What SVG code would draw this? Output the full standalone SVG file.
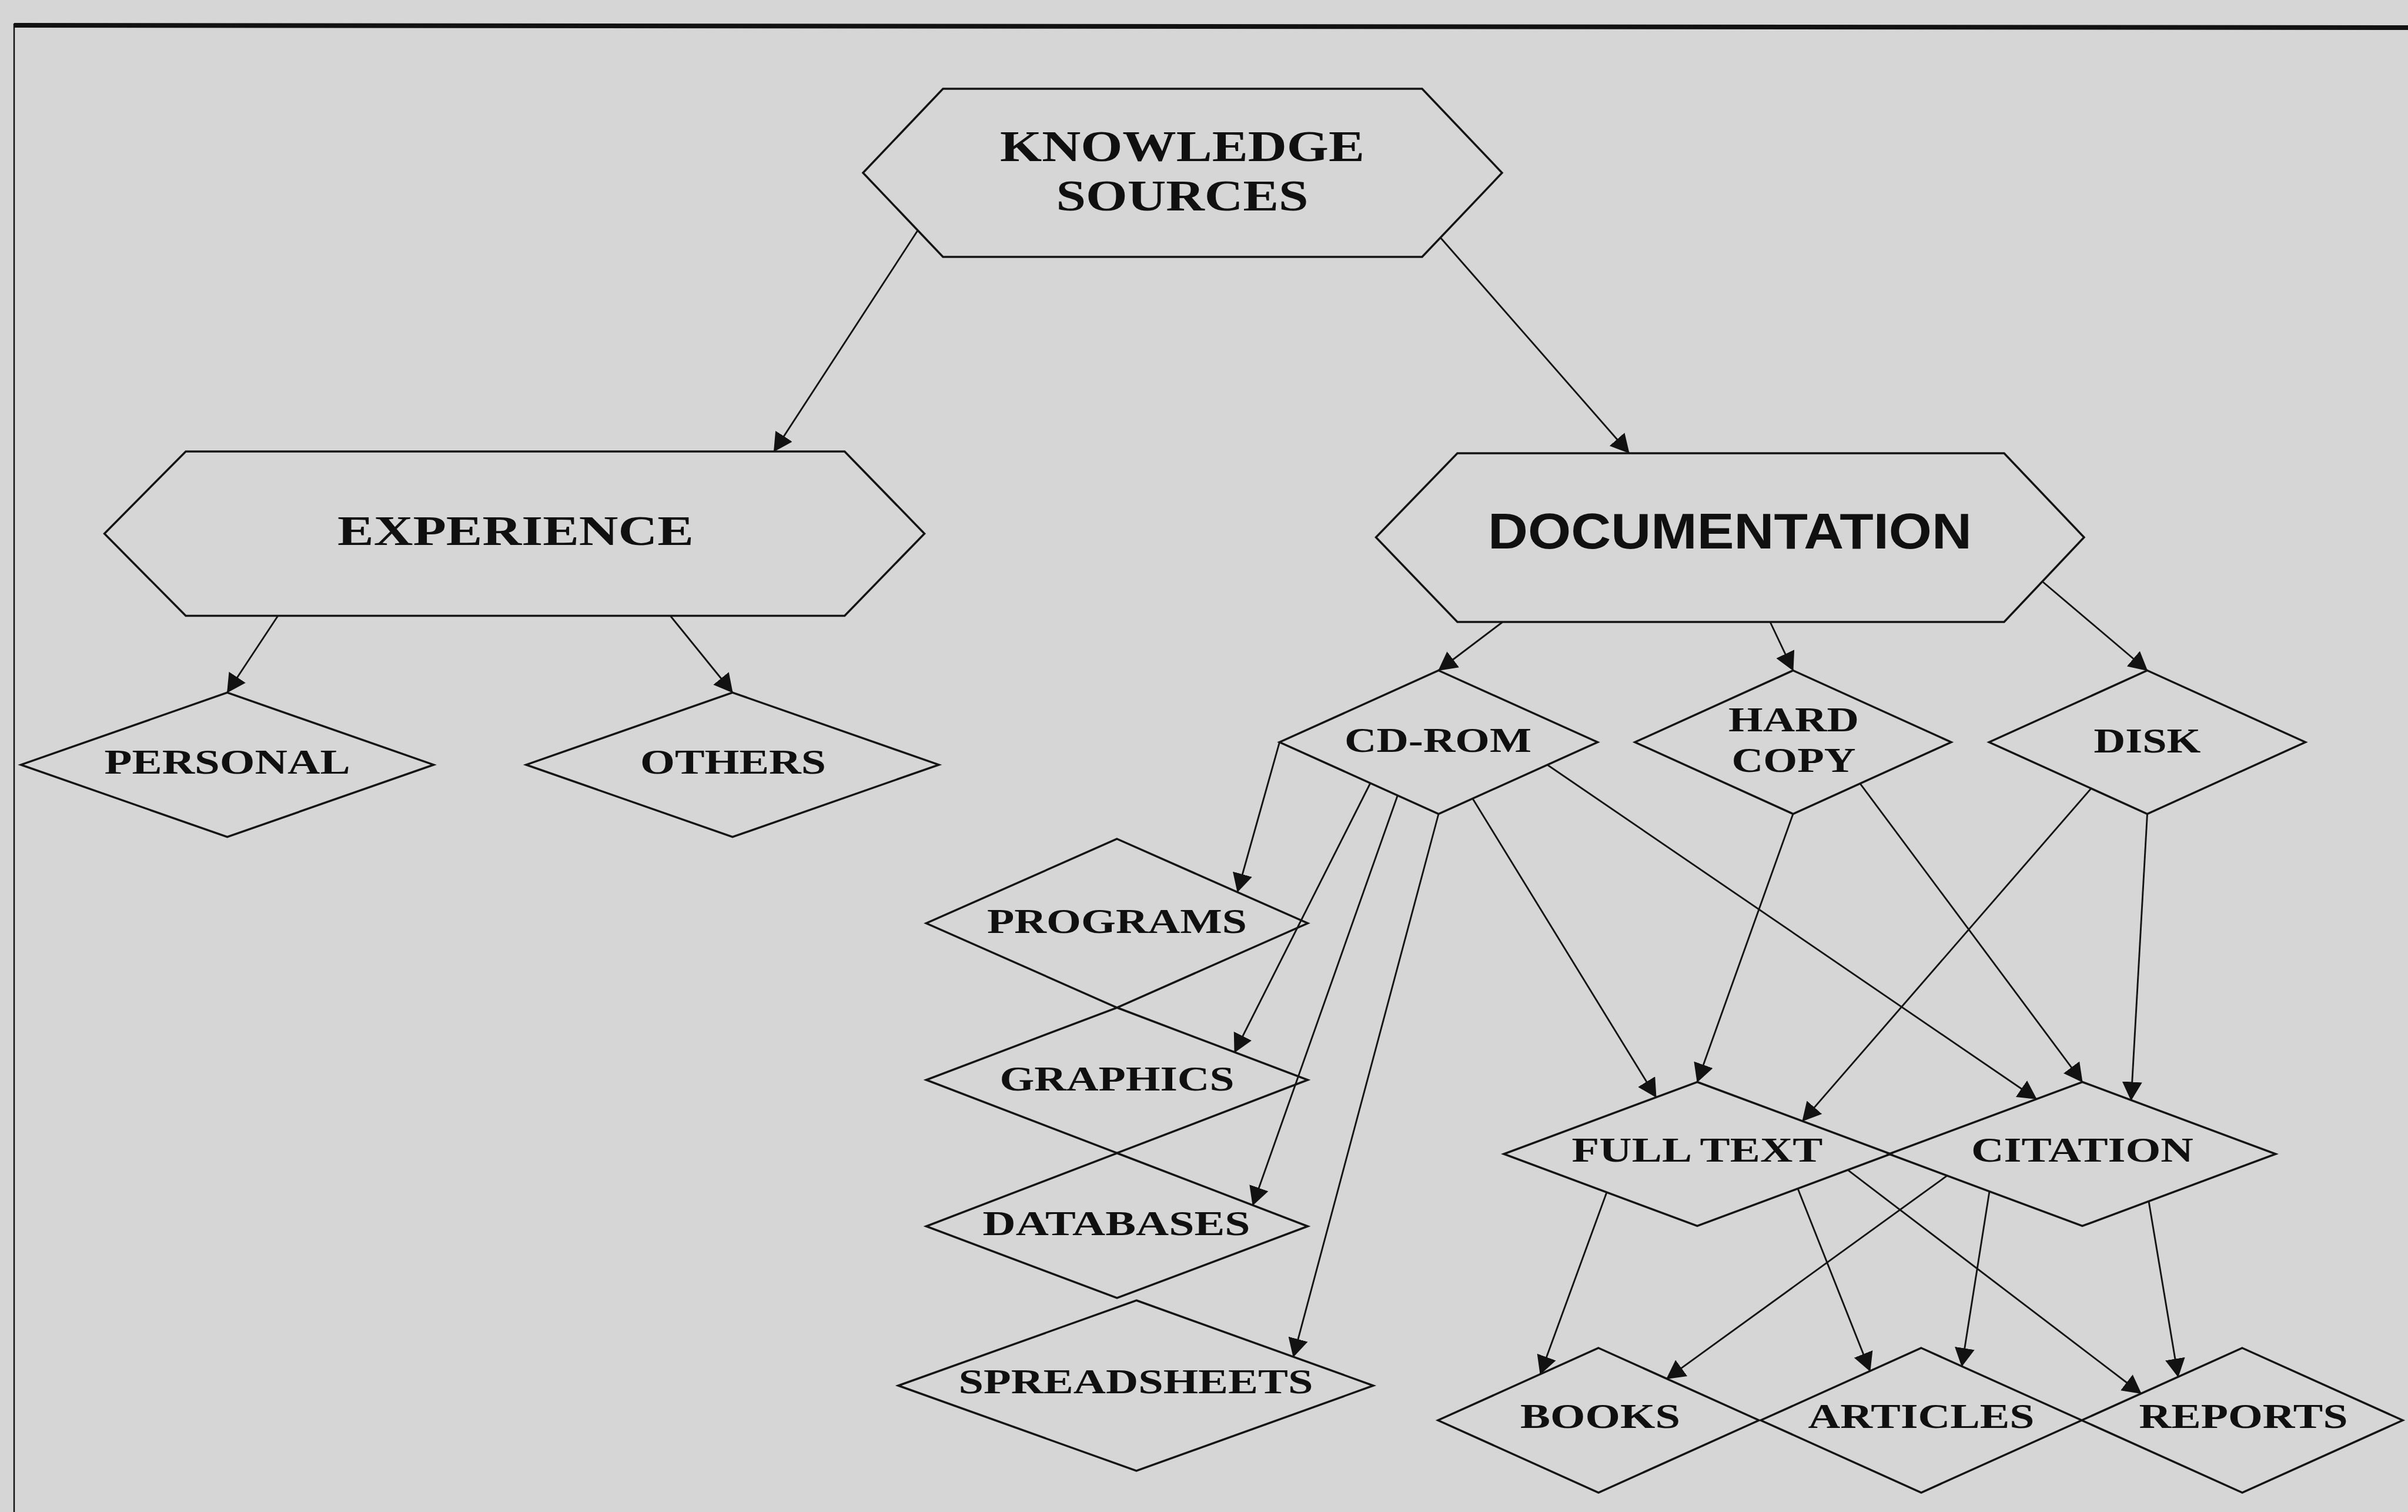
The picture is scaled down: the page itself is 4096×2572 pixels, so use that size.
<svg xmlns="http://www.w3.org/2000/svg" width="4096" height="2572" viewBox="0 0 4096 2572">
  <style>
    .shape { fill: none; stroke: #141414; stroke-width: 3.5; stroke-linejoin: miter; }
    .edge { fill: none; stroke: #141414; stroke-width: 2.9; marker-end: url(#arrow); }
    .frame { stroke: #121212; fill: none; }
    .lbl { font-family: "Liberation Serif", "Times New Roman", serif; font-weight: bold; fill: #101010; text-anchor: middle; }
    .lbl-sans { font-family: "Liberation Sans", Arial, sans-serif; font-weight: bold; fill: #101010; text-anchor: middle; }
    .s74 { font-size: 75px; }
    .s70 { font-size: 71px; }
    .s58 { font-size: 59px; }
    .s85 { font-size: 85px; }
  </style>
  <defs>
    <marker id="arrow" viewBox="0 0 32 34" refX="31" refY="17" markerWidth="32" markerHeight="34" markerUnits="userSpaceOnUse" orient="auto">
      <path d="M0,0 L32,17 L0,34 Z" fill="#121212"/>
    </marker>
  </defs>

  <!-- page background -->
  <rect x="0" y="0" width="4096" height="2572" fill="#d6d6d6"/>

  <!-- outer frame (top rule and left rule) -->
  <g id="frame">
    <line class="frame" x1="24" y1="43" x2="4096" y2="47" stroke-width="8"/>
    <line class="frame" x1="24" y1="40" x2="24" y2="2572" stroke-width="2.5"/>
  </g>

  <!-- connectors -->
  <g id="connectors">
    <path class="edge" d="M1561,392 L1316.5,768"/>
    <path class="edge" d="M2450,404 L2771,770.6"/>
    <path class="edge" d="M472.8,1047.5 L386.6,1178"/>
    <path class="edge" d="M1140.2,1047.5 L1246,1178"/>
    <path class="edge" d="M2556,1058 L2447,1140.5"/>
    <path class="edge" d="M3011,1058 L3050,1140.5"/>
    <path class="edge" d="M3475,990 L3652.5,1140.5"/>
    <path class="edge" d="M2176.5,1262.5 L2105,1517"/>
    <path class="edge" d="M2331,1332 L2100,1790"/>
    <path class="edge" d="M2377,1354 L2131,2050"/>
    <path class="edge" d="M2447,1384.5 L2200,2308"/>
    <path class="edge" d="M2505,1358.5 L2817,1866.5"/>
    <path class="edge" d="M2632,1301 L3464,1869.5"/>
    <path class="edge" d="M3050,1384.5 L2887,1840.5"/>
    <path class="edge" d="M3164,1332.8 L3542,1840.5"/>
    <path class="edge" d="M3557,1341.2 L3066,1907.1"/>
    <path class="edge" d="M3652.5,1384.5 L3625,1871.4"/>
    <path class="edge" d="M2733,2028.2 L2620,2337.6"/>
    <path class="edge" d="M3058,2021.8 L3181,2332.2"/>
    <path class="edge" d="M3143,1990.2 L3642,2370.5"/>
    <path class="edge" d="M3312,1999.9 L2835,2345.3"/>
    <path class="edge" d="M3384,2026.7 L3337,2324.1"/>
    <path class="edge" d="M3655,2043.4 L3705,2342.1"/>
  </g>

  <!-- hexagon nodes -->
  <g id="knowledge-sources">
    <polygon class="shape" points="1468,294 1604,151 2419,151 2555,294 2419,437 1604,437"/>
    <text class="lbl s74" x="2011" y="273.6" textLength="620" lengthAdjust="spacingAndGlyphs">KNOWLEDGE</text>
    <text class="lbl s74" x="2011" y="358.3" textLength="429" lengthAdjust="spacingAndGlyphs">SOURCES</text>
  </g>
  <g id="experience">
    <polygon class="shape" points="177.6,907.7 316,768 1436.7,768 1572.5,907.7 1436.7,1047.5 316,1047.5"/>
    <text class="lbl s70" x="877" y="927" textLength="606" lengthAdjust="spacingAndGlyphs">EXPERIENCE</text>
  </g>
  <g id="documentation">
    <polygon class="shape" points="2340.5,914 2479,771 3409,771 3545,914 3409,1058 2479,1058"/>
    <text class="lbl-sans s85" x="2942.6" y="932.6" textLength="823" lengthAdjust="spacingAndGlyphs">DOCUMENTATION</text>
  </g>

  <!-- diamond nodes -->
  <g id="personal">
    <polygon class="shape" points="386.6,1178.1 737.6,1300.9 386.6,1423.7 35.6,1300.9"/>
    <text class="lbl s58" x="386.6" y="1316" textLength="418" lengthAdjust="spacingAndGlyphs">PERSONAL</text>
  </g>
  <g id="others">
    <polygon class="shape" points="1246,1178.1 1597,1300.9 1246,1423.7 895,1300.9"/>
    <text class="lbl s58" x="1247" y="1316" textLength="316" lengthAdjust="spacingAndGlyphs">OTHERS</text>
  </g>
  <g id="cd-rom">
    <polygon class="shape" points="2447,1140.5 2717.5,1262.5 2447,1384.5 2176.5,1262.5"/>
    <text class="lbl s58" x="2446" y="1278.5" textLength="318" lengthAdjust="spacingAndGlyphs">CD-ROM</text>
  </g>
  <g id="hard-copy">
    <polygon class="shape" points="3050,1140.5 3319,1262.5 3050,1384.5 2781,1262.5"/>
    <text class="lbl s58" x="3051" y="1244" textLength="222" lengthAdjust="spacingAndGlyphs">HARD</text>
    <text class="lbl s58" x="3051" y="1313" textLength="211" lengthAdjust="spacingAndGlyphs">COPY</text>
  </g>
  <g id="disk">
    <polygon class="shape" points="3652.5,1140.5 3921.5,1262.5 3652.5,1384.5 3383.5,1262.5"/>
    <text class="lbl s58" x="3652.5" y="1279.5" textLength="182" lengthAdjust="spacingAndGlyphs">DISK</text>
  </g>
  <g id="programs">
    <polygon class="shape" points="1900,1427 2224.5,1570.5 1900,1714 1575.5,1570.5"/>
    <text class="lbl s58" x="1900" y="1587" textLength="442" lengthAdjust="spacingAndGlyphs">PROGRAMS</text>
  </g>
  <g id="graphics">
    <polygon class="shape" points="1900,1714 2224.5,1837 1900,1961.5 1575.5,1837"/>
    <text class="lbl s58" x="1900" y="1855.3" textLength="399" lengthAdjust="spacingAndGlyphs">GRAPHICS</text>
  </g>
  <g id="databases">
    <polygon class="shape" points="1900,1961.5 2224.5,2086 1900,2208 1575.5,2086"/>
    <text class="lbl s58" x="1899" y="2101.2" textLength="455" lengthAdjust="spacingAndGlyphs">DATABASES</text>
  </g>
  <g id="spreadsheets">
    <polygon class="shape" points="1933,2212 2336,2357 1933,2502 1528,2357"/>
    <text class="lbl s58" x="1932" y="2370" textLength="603" lengthAdjust="spacingAndGlyphs">SPREADSHEETS</text>
  </g>
  <g id="full-text">
    <polygon class="shape" points="2887,1840.5 3216,1963 2887,2085.5 2558,1963"/>
    <text class="lbl s58" x="2887" y="1976.4" textLength="427" lengthAdjust="spacingAndGlyphs">FULL TEXT</text>
  </g>
  <g id="citation">
    <polygon class="shape" points="3542,1840.5 3871,1963 3542,2085.5 3213,1963"/>
    <text class="lbl s58" x="3542" y="1976.4" textLength="378" lengthAdjust="spacingAndGlyphs">CITATION</text>
  </g>
  <g id="books">
    <polygon class="shape" points="2719,2293 2992,2416 2719,2539 2446,2416"/>
    <text class="lbl s58" x="2722" y="2429" textLength="272" lengthAdjust="spacingAndGlyphs">BOOKS</text>
  </g>
  <g id="articles">
    <polygon class="shape" points="3268,2293 3541,2416 3268,2539 2995,2416"/>
    <text class="lbl s58" x="3268" y="2429" textLength="385" lengthAdjust="spacingAndGlyphs">ARTICLES</text>
  </g>
  <g id="reports">
    <polygon class="shape" points="3814,2293 4087,2416 3814,2539 3541,2416"/>
    <text class="lbl s58" x="3816" y="2429" textLength="355" lengthAdjust="spacingAndGlyphs">REPORTS</text>
  </g>
</svg>
